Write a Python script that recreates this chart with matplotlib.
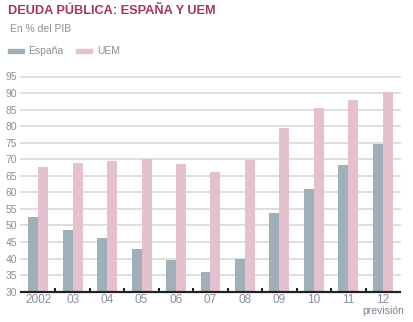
import numpy as np
import matplotlib
matplotlib.use("Agg")
from matplotlib import pyplot as plt
from matplotlib.patches import Rectangle
from matplotlib.transforms import offset_copy

plt.rcParams['font.family'] = ['Liberation Sans', 'DejaVu Sans']

# deuda publica en % del PIB
years = ["2002", "03", "04", "05", "06", "07", "08", "09", "10", "11", "12"]
espana = [52.5, 48.7, 46.2, 43.0, 39.6, 36.1, 40.0, 53.8, 61.0, 68.2, 74.5]
uem = [67.8, 68.9, 69.5, 70.1, 68.5, 66.3, 69.8, 79.5, 85.4, 87.8, 90.2]
yticks = list(range(30, 100, 5))

c_esp = "#a0b0b8"
c_uem = "#e5c0ce"
c_grid = "#d9d9d9"
c_text = "#8a8f98"
c_title = "#a4365d"

fig = plt.figure(figsize=(4.14, 3.22), dpi=100)
ax = fig.add_axes([21 / 414, 30.3 / 322, 379 / 414, 215.2 / 322])

x = np.arange(len(years))
w = 0.29
ax.bar(x - w / 2, espana, w, color=c_esp, zorder=3)
ax.bar(x + w / 2, uem, w, color=c_uem, zorder=3)

ax.set_xlim(-0.5, len(years) - 0.5)
ax.set_ylim(30, 95)
ax.set_yticks(yticks)
ax.yaxis.grid(True, color=c_grid, lw=1.2, zorder=0)
for ln in ax.get_ygridlines():
    ln.set_clip_on(False)
ax.tick_params(axis="y", length=0, pad=3, labelsize=7.5, labelcolor=c_text)

ax.set_xticks(x)
ax.set_xticklabels(years)
ax.tick_params(axis="x", length=0, pad=2, labelsize=8.5, labelcolor=c_text)
ax.set_xticks(np.arange(0.5, len(years) - 1, 1), minor=True)
ax.tick_params(axis="x", which="minor", length=3, width=1.5, color="#222222",
               direction="in")

for s in ["left", "right", "top"]:
    ax.spines[s].set_visible(False)
ax.spines["bottom"].set_color("#222222")
ax.spines["bottom"].set_linewidth(1.6)
ax.spines["bottom"].set_zorder(4)

# etiqueta bajo el ultimo año
tr = offset_copy(ax.get_xaxis_transform(), fig=fig, x=0, y=-19, units="dots")
ax.text(10, 0, "previsión", fontsize=7.5, color="#7a8290", ha="center",
        va="center", transform=tr)

fig.text(8 / 414, 1 - 11 / 322, "DEUDA PÚBLICA: ESPAÑA Y UEM", fontsize=9.2,
         fontweight="bold", color=c_title, va="center", ha="left")
fig.text(10 / 414, 1 - 29 / 322, "En % del PIB", fontsize=7.5, color=c_text,
         va="center", ha="left")

# leyenda
fig.patches.append(Rectangle((8 / 414, 1 - 53 / 322), 16 / 414, 4 / 322,
                             transform=fig.transFigure, color=c_esp))
fig.text(28 / 414, 1 - 51 / 322, "España", fontsize=7.5, color=c_text,
         va="center", ha="left")
fig.patches.append(Rectangle((76 / 414, 1 - 53 / 322), 16 / 414, 4 / 322,
                             transform=fig.transFigure, color=c_uem))
fig.text(97 / 414, 1 - 51 / 322, "UEM", fontsize=7.5, color=c_text,
         va="center", ha="left")

plt.savefig("out.png", dpi=100)
